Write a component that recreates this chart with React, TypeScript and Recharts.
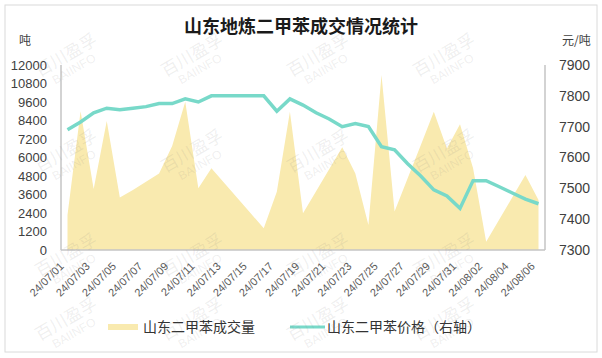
import React from 'react';
import { ComposedChart, Area, Line, XAxis, YAxis } from 'recharts';

const dates = [
  '24/07/01', '24/07/02', '24/07/03', '24/07/04', '24/07/05', '24/07/06', '24/07/07', '24/07/08',
  '24/07/09', '24/07/10', '24/07/11', '24/07/12', '24/07/13', '24/07/14', '24/07/15', '24/07/16',
  '24/07/17', '24/07/18', '24/07/19', '24/07/20', '24/07/21', '24/07/22', '24/07/23', '24/07/24',
  '24/07/25', '24/07/26', '24/07/27', '24/07/28', '24/07/29', '24/07/30', '24/07/31', '24/08/01',
  '24/08/02', '24/08/03', '24/08/04', '24/08/05', '24/08/06',
];

const volume = [
  2270, 9000, 3950, 8370, 3400, 3900, 4430, 4970,
  6750, 9620, 4000, 5300, 4330, 3360, 2380, 1410,
  3780, 8970, 2380, 3810, 5240, 6660, 4970, 1620,
  11350, 2490, 4650, 6800, 8970, 6590, 8150, 5300,
  540, 1980, 3420, 4860, 3240,
];

const price = [
  7690, 7715, 7745, 7760, 7755, 7760, 7765, 7775,
  7775, 7790, 7780, 7800, 7800, 7800, 7800, 7800,
  7750, 7790, 7770, 7745, 7725, 7700, 7710, 7700,
  7635, 7625, 7580, 7540, 7495, 7475, 7435, 7525,
  7525, 7505, 7485, 7465, 7450,
];

const leftTicks = [0, 1200, 2400, 3600, 4800, 6000, 7200, 8400, 9600, 10800, 12000];
const rightTicks = [7300, 7400, 7500, 7600, 7700, 7800, 7900];

const title = '山东地炼二甲苯成交情况统计';
const leftUnit = '吨';
const rightUnit = '元/吨';
const volumeName = '山东二甲苯成交量';
const priceName = '山东二甲苯价格（右轴）';
const watermarkCn = '百川盈孚';
const watermarkEn = 'BAIINFO';

const data = dates.map((d, i) => ({ date: d, volume: volume[i], price: price[i] }));

const AREA_COLOR = '#F9EAAF';
const LINE_COLOR = '#78D9C9';
const AXIS_COLOR = '#C4C4C4';
const CJK = '"Noto Sans CJK SC", "Noto Sans", sans-serif';
const LATIN = '"Liberation Sans", Arial, sans-serif';

const XTick = (props: any) => {
  const { x, y, payload } = props;
  const tx = x - 3;
  const ty = y + 17;
  return (
    <text
      x={tx}
      y={ty}
      textAnchor="end"
      fontSize={11}
      fontFamily={LATIN}
      fill="#595959"
      transform={`rotate(-45 ${tx} ${ty})`}
    >
      {payload.value}
    </text>
  );
};

const wmXs = [70, 196, 322, 448];
const wmYs = [62, 158, 262, 326];

export default function App() {
  return (
    <div style={{ position: 'absolute', left: 0, top: 0, width: 602, height: 358, background: '#fff' }}>
      <ComposedChart
        width={602}
        height={358}
        data={data}
        margin={{ top: 65, right: 7, bottom: 48, left: 11 }}
      >
        <XAxis
          dataKey="date"
          interval={1}
          tick={<XTick />}
          tickLine={false}
          tickSize={0}
          tickMargin={0}
          height={60}
          padding={{ left: 6.5, right: 6.5 }}
          axisLine={{ stroke: AXIS_COLOR, strokeWidth: 1.5 }}
        />
        <YAxis
          yAxisId="left"
          width={50}
          domain={[0, 12000]}
          ticks={leftTicks}
          interval={0}
          tickLine={false}
          tickSize={0}
          tickMargin={14}
          axisLine={{ stroke: AXIS_COLOR, strokeWidth: 1.5 }}
          tick={{ fontSize: 13, fill: '#404040', fontFamily: LATIN }}
        />
        <YAxis
          yAxisId="right"
          orientation="right"
          width={50}
          domain={[7300, 7900]}
          ticks={rightTicks}
          interval={0}
          tickLine={false}
          tickSize={0}
          tickMargin={14}
          axisLine={{ stroke: AXIS_COLOR, strokeWidth: 1.5 }}
          tick={{ fontSize: 14, fill: '#404040', fontFamily: LATIN, textAnchor: 'start' }}
        />
        <Area
          yAxisId="left"
          type="linear"
          dataKey="volume"
          fill={AREA_COLOR}
          fillOpacity={1}
          stroke="none"
          isAnimationActive={false}
        />
        <Line
          yAxisId="right"
          type="linear"
          dataKey="price"
          stroke={LINE_COLOR}
          strokeWidth={3.5}
          dot={false}
          activeDot={false}
          isAnimationActive={false}
        />
      </ComposedChart>
      <svg
        width={602}
        height={358}
        style={{ position: 'absolute', left: 0, top: 0, pointerEvents: 'none' }}
      >
        <rect x={5} y={5} width={592} height={347} fill="none" stroke="#DADADA" strokeWidth={1} />
        <text x={301} y={33} textAnchor="middle" fontSize={18} fontWeight={700} fontFamily={CJK} fill="#1a1a1a">
          {title}
        </text>
        <text x={19} y={45} fontSize={12} fontFamily={CJK} fill="#404040">{leftUnit}</text>
        <text x={562} y={45} fontSize={12} fontFamily={CJK} fill="#404040">{rightUnit}</text>
        <rect x={108} y={324} width={30} height={6} fill={AREA_COLOR} />
        <text x={143} y={332} fontSize={14} fontFamily={CJK} fill="#333">{volumeName}</text>
        <line x1={290} y1={327} x2={325} y2={327} stroke={LINE_COLOR} strokeWidth={3} />
        <text x={327} y={332} fontSize={14} fontFamily={CJK} fill="#333">{priceName}</text>
        {wmYs.map((wy) =>
          wmXs.map((wx) => (
            <g key={`${wx}-${wy}`} transform={`translate(${wx} ${wy}) rotate(-30)`} fill="#7a7a7a" fillOpacity={0.12}>
              <text x={0} y={-2} textAnchor="middle" fontSize={17} fontFamily={CJK}>{watermarkCn}</text>
              <text x={0} y={12} textAnchor="middle" fontSize={12} fontFamily={LATIN}>{watermarkEn}</text>
            </g>
          ))
        )}
      </svg>
    </div>
  );
}
